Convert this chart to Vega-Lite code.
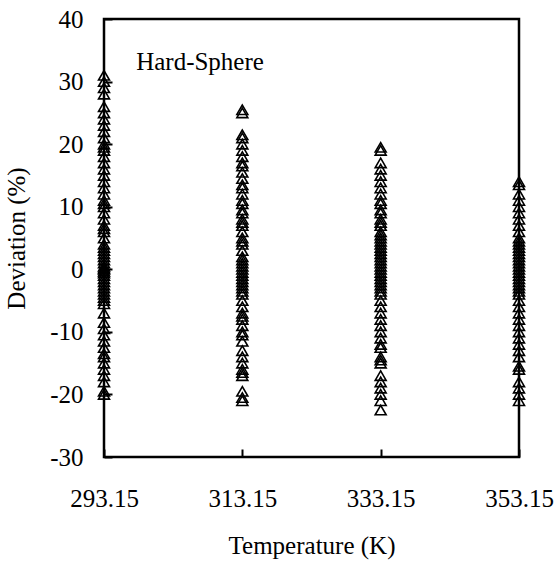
{
  "$schema": "https://vega.github.io/schema/vega-lite/v6.json",
  "width": 415,
  "height": 438,
  "autosize": "none",
  "padding": {"left": 104, "top": 19, "right": 38, "bottom": 105},
  "background": "white",
  "config": {
    "font": "Liberation Serif",
    "view": {"stroke": "black", "strokeWidth": 2.5}
  },
  "datasets": {
    "deviation": [
      {"T": 293.15, "dev": 31}, {"T": 293.15, "dev": 30}, {"T": 293.15, "dev": 29}, {"T": 293.15, "dev": 28},
      {"T": 293.15, "dev": 26}, {"T": 293.15, "dev": 25}, {"T": 293.15, "dev": 24}, {"T": 293.15, "dev": 23},
      {"T": 293.15, "dev": 22}, {"T": 293.15, "dev": 21}, {"T": 293.15, "dev": 20}, {"T": 293.15, "dev": 19.5},
      {"T": 293.15, "dev": 19}, {"T": 293.15, "dev": 18}, {"T": 293.15, "dev": 17}, {"T": 293.15, "dev": 16},
      {"T": 293.15, "dev": 15}, {"T": 293.15, "dev": 14}, {"T": 293.15, "dev": 13}, {"T": 293.15, "dev": 12},
      {"T": 293.15, "dev": 11}, {"T": 293.15, "dev": 10.5}, {"T": 293.15, "dev": 10}, {"T": 293.15, "dev": 9},
      {"T": 293.15, "dev": 8}, {"T": 293.15, "dev": 7}, {"T": 293.15, "dev": 6.5}, {"T": 293.15, "dev": 6},
      {"T": 293.15, "dev": 5}, {"T": 293.15, "dev": 4}, {"T": 293.15, "dev": 3.5}, {"T": 293.15, "dev": 3},
      {"T": 293.15, "dev": 2.5}, {"T": 293.15, "dev": 2}, {"T": 293.15, "dev": 1.5}, {"T": 293.15, "dev": 1},
      {"T": 293.15, "dev": 0.5}, {"T": 293.15, "dev": 0.2}, {"T": 293.15, "dev": 0}, {"T": 293.15, "dev": -0.3},
      {"T": 293.15, "dev": -0.6}, {"T": 293.15, "dev": -1}, {"T": 293.15, "dev": -1.5}, {"T": 293.15, "dev": -2},
      {"T": 293.15, "dev": -2.5}, {"T": 293.15, "dev": -3}, {"T": 293.15, "dev": -3.5}, {"T": 293.15, "dev": -4},
      {"T": 293.15, "dev": -4.5}, {"T": 293.15, "dev": -5}, {"T": 293.15, "dev": -5.5}, {"T": 293.15, "dev": -7},
      {"T": 293.15, "dev": -8.5}, {"T": 293.15, "dev": -9.5}, {"T": 293.15, "dev": -10.5}, {"T": 293.15, "dev": -11.5},
      {"T": 293.15, "dev": -12.5}, {"T": 293.15, "dev": -13.5}, {"T": 293.15, "dev": -14}, {"T": 293.15, "dev": -15},
      {"T": 293.15, "dev": -16}, {"T": 293.15, "dev": -17}, {"T": 293.15, "dev": -18}, {"T": 293.15, "dev": -19.5},
      {"T": 293.15, "dev": -20},

      {"T": 313.15, "dev": 25.5}, {"T": 313.15, "dev": 25}, {"T": 313.15, "dev": 21.5}, {"T": 313.15, "dev": 21},
      {"T": 313.15, "dev": 20}, {"T": 313.15, "dev": 19}, {"T": 313.15, "dev": 18}, {"T": 313.15, "dev": 17},
      {"T": 313.15, "dev": 16.5}, {"T": 313.15, "dev": 15.5}, {"T": 313.15, "dev": 14.5}, {"T": 313.15, "dev": 13.5},
      {"T": 313.15, "dev": 13}, {"T": 313.15, "dev": 12}, {"T": 313.15, "dev": 11}, {"T": 313.15, "dev": 10.5},
      {"T": 313.15, "dev": 9.5}, {"T": 313.15, "dev": 9}, {"T": 313.15, "dev": 8}, {"T": 313.15, "dev": 7.5},
      {"T": 313.15, "dev": 7}, {"T": 313.15, "dev": 6}, {"T": 313.15, "dev": 5}, {"T": 313.15, "dev": 4.5},
      {"T": 313.15, "dev": 4}, {"T": 313.15, "dev": 3}, {"T": 313.15, "dev": 2}, {"T": 313.15, "dev": 1.5},
      {"T": 313.15, "dev": 1}, {"T": 313.15, "dev": 0.5}, {"T": 313.15, "dev": 0}, {"T": 313.15, "dev": -0.5},
      {"T": 313.15, "dev": -1}, {"T": 313.15, "dev": -1.5}, {"T": 313.15, "dev": -2}, {"T": 313.15, "dev": -2.5},
      {"T": 313.15, "dev": -3}, {"T": 313.15, "dev": -3.5}, {"T": 313.15, "dev": -4}, {"T": 313.15, "dev": -5},
      {"T": 313.15, "dev": -6}, {"T": 313.15, "dev": -7}, {"T": 313.15, "dev": -7.5}, {"T": 313.15, "dev": -8},
      {"T": 313.15, "dev": -9}, {"T": 313.15, "dev": -10}, {"T": 313.15, "dev": -10.5}, {"T": 313.15, "dev": -11.5},
      {"T": 313.15, "dev": -13}, {"T": 313.15, "dev": -14}, {"T": 313.15, "dev": -15}, {"T": 313.15, "dev": -16},
      {"T": 313.15, "dev": -16.5}, {"T": 313.15, "dev": -17}, {"T": 313.15, "dev": -19.5}, {"T": 313.15, "dev": -20.5},
      {"T": 313.15, "dev": -21},

      {"T": 333.15, "dev": 19.5}, {"T": 333.15, "dev": 19}, {"T": 333.15, "dev": 17}, {"T": 333.15, "dev": 16},
      {"T": 333.15, "dev": 15}, {"T": 333.15, "dev": 14}, {"T": 333.15, "dev": 13}, {"T": 333.15, "dev": 12},
      {"T": 333.15, "dev": 11}, {"T": 333.15, "dev": 10.5}, {"T": 333.15, "dev": 9.5}, {"T": 333.15, "dev": 9},
      {"T": 333.15, "dev": 8}, {"T": 333.15, "dev": 7.5}, {"T": 333.15, "dev": 7}, {"T": 333.15, "dev": 6},
      {"T": 333.15, "dev": 5.5}, {"T": 333.15, "dev": 5}, {"T": 333.15, "dev": 4.5}, {"T": 333.15, "dev": 4},
      {"T": 333.15, "dev": 3.5}, {"T": 333.15, "dev": 3}, {"T": 333.15, "dev": 2.5}, {"T": 333.15, "dev": 2},
      {"T": 333.15, "dev": 1.5}, {"T": 333.15, "dev": 1}, {"T": 333.15, "dev": 0.5}, {"T": 333.15, "dev": 0},
      {"T": 333.15, "dev": -0.5}, {"T": 333.15, "dev": -1}, {"T": 333.15, "dev": -1.5}, {"T": 333.15, "dev": -2},
      {"T": 333.15, "dev": -2.5}, {"T": 333.15, "dev": -3}, {"T": 333.15, "dev": -3.5}, {"T": 333.15, "dev": -4},
      {"T": 333.15, "dev": -5}, {"T": 333.15, "dev": -6}, {"T": 333.15, "dev": -7}, {"T": 333.15, "dev": -8},
      {"T": 333.15, "dev": -9}, {"T": 333.15, "dev": -10}, {"T": 333.15, "dev": -11}, {"T": 333.15, "dev": -12},
      {"T": 333.15, "dev": -12.5}, {"T": 333.15, "dev": -14}, {"T": 333.15, "dev": -14.5}, {"T": 333.15, "dev": -15},
      {"T": 333.15, "dev": -17}, {"T": 333.15, "dev": -18}, {"T": 333.15, "dev": -19}, {"T": 333.15, "dev": -20},
      {"T": 333.15, "dev": -21}, {"T": 333.15, "dev": -22.5},

      {"T": 353.15, "dev": 14}, {"T": 353.15, "dev": 13.5}, {"T": 353.15, "dev": 12}, {"T": 353.15, "dev": 11},
      {"T": 353.15, "dev": 10}, {"T": 353.15, "dev": 9}, {"T": 353.15, "dev": 8}, {"T": 353.15, "dev": 7},
      {"T": 353.15, "dev": 6}, {"T": 353.15, "dev": 5}, {"T": 353.15, "dev": 4.5}, {"T": 353.15, "dev": 4},
      {"T": 353.15, "dev": 3.5}, {"T": 353.15, "dev": 3}, {"T": 353.15, "dev": 2.5}, {"T": 353.15, "dev": 2},
      {"T": 353.15, "dev": 1.5}, {"T": 353.15, "dev": 1}, {"T": 353.15, "dev": 0.5}, {"T": 353.15, "dev": 0},
      {"T": 353.15, "dev": -0.5}, {"T": 353.15, "dev": -1}, {"T": 353.15, "dev": -1.5}, {"T": 353.15, "dev": -2},
      {"T": 353.15, "dev": -2.5}, {"T": 353.15, "dev": -3}, {"T": 353.15, "dev": -3.5}, {"T": 353.15, "dev": -4},
      {"T": 353.15, "dev": -5}, {"T": 353.15, "dev": -6}, {"T": 353.15, "dev": -7}, {"T": 353.15, "dev": -8},
      {"T": 353.15, "dev": -9}, {"T": 353.15, "dev": -10}, {"T": 353.15, "dev": -11}, {"T": 353.15, "dev": -12},
      {"T": 353.15, "dev": -13}, {"T": 353.15, "dev": -14}, {"T": 353.15, "dev": -15.5}, {"T": 353.15, "dev": -16},
      {"T": 353.15, "dev": -18}, {"T": 353.15, "dev": -19}, {"T": 353.15, "dev": -20}, {"T": 353.15, "dev": -21}
    ],
    "label": [{"T": 297.8, "dev": 31.9, "text": "Hard-Sphere"}]
  },
  "layer": [
    {
      "mark": {"type": "rule", "color": "black", "strokeWidth": 2.5},
      "encoding": {"y": {"datum": 0, "type": "quantitative"}}
    },
    {
      "data": {"name": "deviation"},
      "mark": {"type": "point", "shape": "triangle-up", "filled": false, "stroke": "black", "strokeWidth": 1.6, "size": 120, "opacity": 1},
      "encoding": {
        "x": {
          "field": "T", "type": "quantitative",
          "scale": {"domain": [293.15, 353.15], "nice": false, "zero": false},
          "axis": {
            "values": [293.15, 313.15, 333.15, 353.15], "labelExpr": "format(datum.value, '.2f')",
            "domain": false, "grid": false, "tickColor": "black", "tickWidth": 2, "tickSize": -8,
            "labelFont": "Liberation Serif", "labelFontSize": 25, "labelColor": "black", "labelPadding": 37, "labelFlush": false, "labelOverlap": false,
            "title": "Temperature  (K)", "titleFont": "Liberation Serif", "titleFontSize": 25, "titleFontWeight": "normal", "titleColor": "black", "titlePadding": 22
          }
        },
        "y": {
          "field": "dev", "type": "quantitative",
          "scale": {"domain": [-30, 40], "nice": false, "zero": false},
          "axis": {
            "values": [-30, -20, -10, 0, 10, 20, 30, 40], "labelExpr": "'' + datum.value",
            "domain": false, "grid": false, "tickColor": "black", "tickWidth": 2, "tickSize": -8,
            "labelFont": "Liberation Serif", "labelFontSize": 25, "labelColor": "black", "labelPadding": 29, "labelFlush": false, "labelOverlap": false,
            "title": "Deviation (%)", "titleFont": "Liberation Serif", "titleFontSize": 25, "titleFontWeight": "normal", "titleColor": "black", "titlePadding": 20
          }
        }
      }
    },
    {
      "data": {"name": "label"},
      "mark": {"type": "text", "align": "left", "baseline": "alphabetic", "font": "Liberation Serif", "fontSize": 25, "color": "black"},
      "encoding": {
        "x": {"field": "T", "type": "quantitative"},
        "y": {"field": "dev", "type": "quantitative"},
        "text": {"field": "text"}
      }
    }
  ]
}
